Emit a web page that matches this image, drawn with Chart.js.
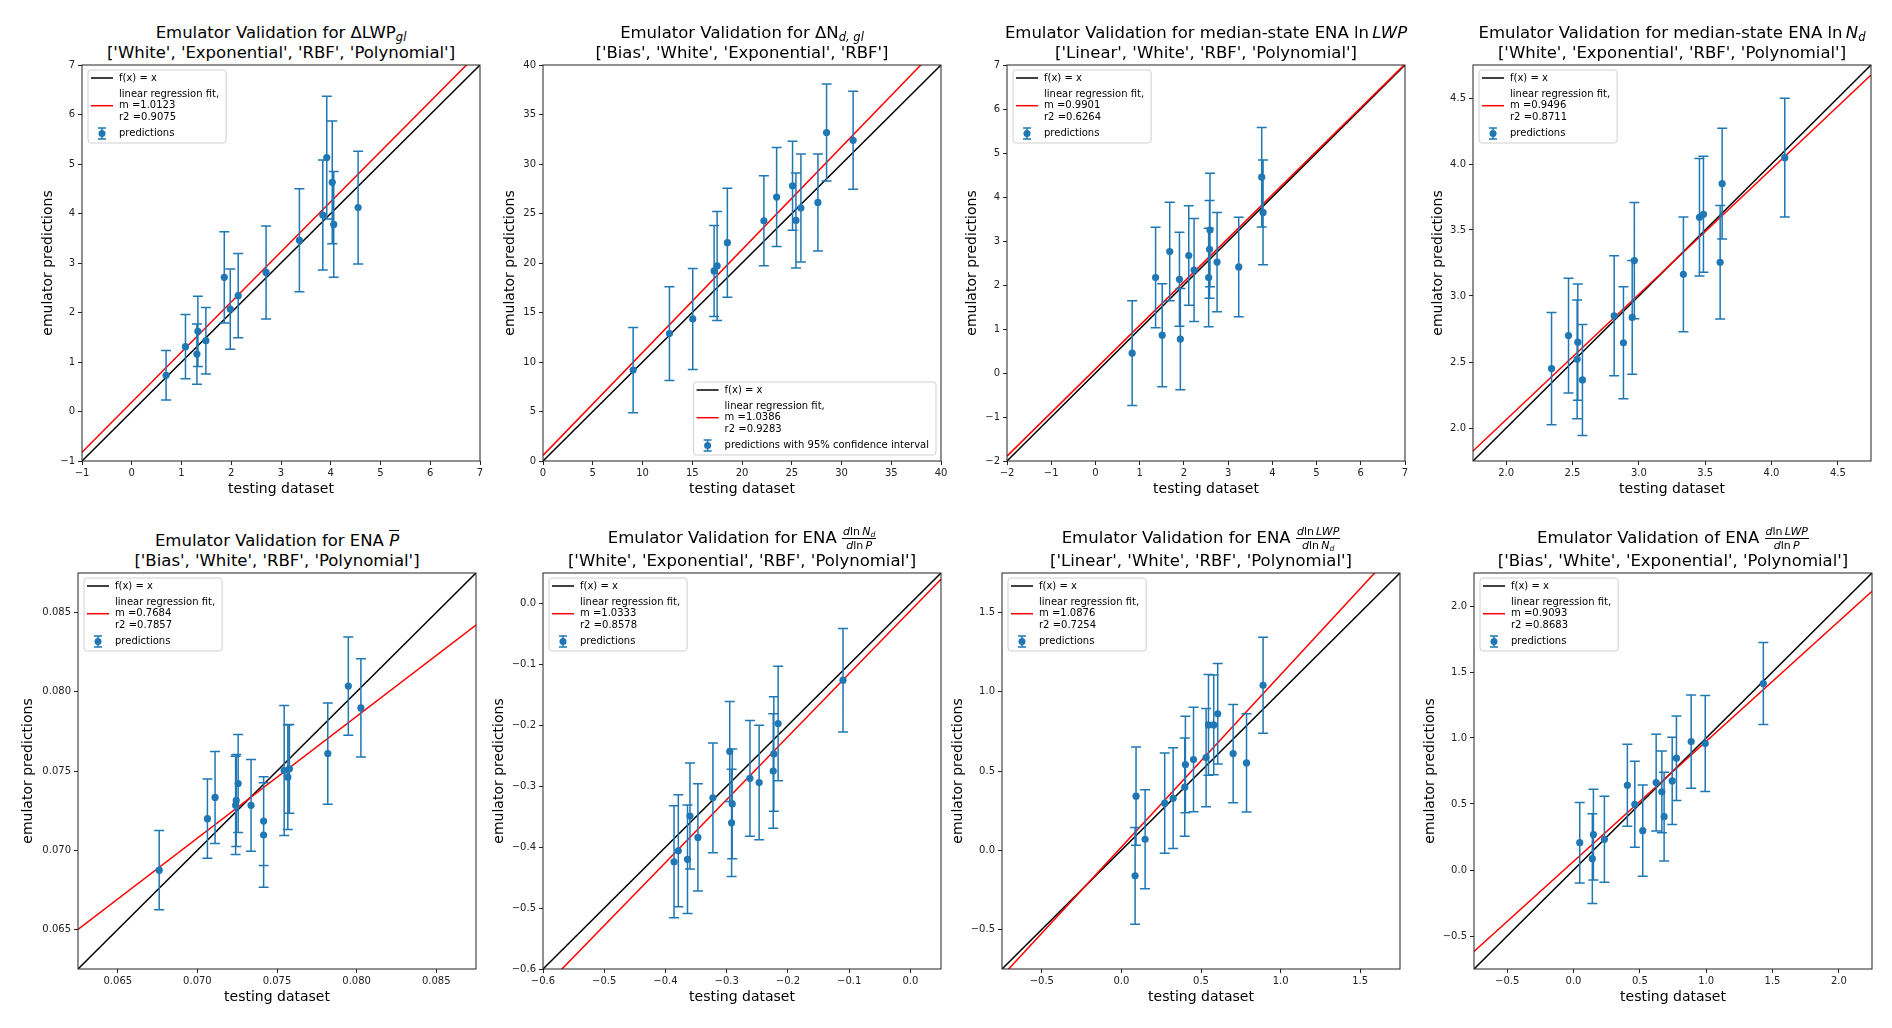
<!DOCTYPE html>
<html>
<head>
<meta charset="utf-8">
<script src="https://cdn.jsdelivr.net/npm/chart.js@4.4.1/dist/chart.umd.min.js"></script>
<style>
  body { margin: 0; background: #fff; }
  #fig { position: relative; width: 1892px; height: 1028px; overflow: hidden; font-family: "DejaVu Sans", sans-serif; }
  .ttl { position: absolute; width: 640px; text-align: center; font-size: 16.5px; line-height: 20px; color: #000; }
  .ttl sub { font-size: 70%; vertical-align: -0.3em; line-height: 0; }
  .frac { display: inline-flex; flex-direction: column; vertical-align: middle; font-size: 11px; line-height: 11px; text-align: center; }
  .frac > span:first-child { border-bottom: 1px solid #000; padding: 0 1px 1px; }
  .frac > span:last-child { padding-top: 1px; }
  .ovl { text-decoration: overline; }
  canvas { position: absolute; }
</style>
</head>
<body>
<div id="fig"></div>
<script>
// ---- data ----
const dLwpTest = [0.69, 1.08, 1.33, 1.31, 1.49, 1.86, 1.98, 2.14, 2.70, 3.37, 3.84, 3.92, 4.03, 4.06, 4.55];
const dLwpPred = [0.73, 1.31, 1.62, 1.16, 1.43, 2.71, 2.07, 2.34, 2.81, 3.46, 3.97, 5.13, 4.63, 3.78, 4.12];
const dLwpErr  = [0.50, 0.65, 0.71, 0.61, 0.67, 0.92, 0.81, 0.85, 0.94, 1.04, 1.11, 1.24, 1.24, 1.07, 1.14];

const dNdTest = [9.06, 12.71, 15.05, 17.2, 17.5, 18.53, 22.2, 23.48, 25.08, 25.42, 25.92, 27.63, 28.5, 31.17];
const dNdPred = [9.18, 12.87, 14.35, 19.2, 19.7, 22.05, 24.27, 26.66, 27.8, 24.3, 25.55, 26.12, 33.18, 32.4];
const dNdErr  = [4.3, 4.74, 5.1, 4.6, 5.5, 5.5, 4.55, 5.0, 4.5, 4.8, 5.45, 4.9, 4.9, 4.95];

const lnLwpTest = [0.83, 1.36, 1.51, 1.68, 1.90, 1.92, 2.11, 2.23, 2.56, 2.58, 2.59, 2.75, 3.24, 3.76, 3.79];
const lnLwpPred = [0.45, 2.17, 0.86, 2.76, 2.13, 0.77, 2.67, 2.34, 2.17, 2.81, 3.25, 2.52, 2.41, 4.45, 3.65];
const lnLwpErr  = [1.19, 1.14, 1.17, 1.12, 1.07, 1.15, 1.13, 1.17, 1.12, 1.11, 1.29, 1.13, 1.13, 1.13, 1.19];

const lnNdTest = [2.342, 2.47, 2.54, 2.535, 2.575, 2.814, 2.884, 2.95, 2.966, 3.336, 3.457, 3.487, 3.613, 3.628, 4.10];
const lnNdPred = [2.45, 2.70, 2.65, 2.52, 2.364, 2.85, 2.646, 2.838, 3.268, 3.164, 3.596, 3.619, 3.255, 3.851, 4.048];
const lnNdErr  = [0.425, 0.435, 0.44, 0.45, 0.42, 0.455, 0.425, 0.43, 0.44, 0.435, 0.445, 0.44, 0.43, 0.42, 0.45];

const precipTest = [0.0676, 0.07063, 0.07111, 0.07256, 0.07244, 0.0724, 0.07337, 0.07416, 0.07416, 0.07545, 0.07568, 0.07578, 0.07819, 0.07948, 0.08027];
const precipPred = [0.06874, 0.07199, 0.07333, 0.07421, 0.07314, 0.07283, 0.07283, 0.07184, 0.07096, 0.07503, 0.07461, 0.07514, 0.0761, 0.08036, 0.07898];
const precipErr  = [0.0025, 0.0025, 0.0029, 0.0031, 0.0029, 0.0031, 0.0029, 0.0028, 0.0033, 0.0041, 0.0033, 0.0028, 0.0032, 0.0031, 0.0031];

const sNdPTest = [-0.386, -0.379, -0.364, -0.360, -0.347, -0.3225, -0.295, -0.291, -0.292, -0.262, -0.247, -0.224, -0.223, -0.216, -0.110];
const sNdPPred = [-0.424, -0.406, -0.420, -0.349, -0.384, -0.319, -0.243, -0.329, -0.360, -0.287, -0.294, -0.275, -0.247, -0.197, -0.126];
const sNdPErr  = [0.092, 0.092, 0.089, 0.087, 0.088, 0.09, 0.082, 0.09, 0.088, 0.095, 0.094, 0.094, 0.094, 0.094, 0.085];

const sLwpNdTest = [0.086, 0.092, 0.149, 0.272, 0.325, 0.398, 0.402, 0.453, 0.532, 0.547, 0.580, 0.605, 0.702, 0.786, 0.890];
const sLwpNdPred = [-0.162, 0.341, 0.069, 0.297, 0.328, 0.398, 0.541, 0.572, 0.585, 0.791, 0.791, 0.861, 0.61, 0.551, 1.041];
const sLwpNdErr  = [0.306, 0.31, 0.313, 0.316, 0.318, 0.31, 0.305, 0.33, 0.31, 0.318, 0.315, 0.317, 0.31, 0.31, 0.303];

const sLwpPTest = [0.047, 0.142, 0.150, 0.233, 0.406, 0.462, 0.522, 0.623, 0.666, 0.683, 0.744, 0.776, 0.887, 0.993, 1.431];
const sLwpPPred = [0.207, 0.086, 0.268, 0.233, 0.642, 0.498, 0.298, 0.662, 0.592, 0.404, 0.675, 0.847, 0.973, 0.958, 1.413];
const sLwpPErr  = [0.305, 0.34, 0.344, 0.325, 0.31, 0.325, 0.345, 0.367, 0.31, 0.336, 0.33, 0.32, 0.353, 0.364, 0.31];

// regression fits (slope and r2 as printed, intercept estimated from the red line)
const fitSlopes = [1.0123, 1.0386, 0.9901, 0.9496, 0.7684, 1.0333, 1.0876, 0.9093];
const fitR2 = [0.9075, 0.9283, 0.6264, 0.8711, 0.7857, 0.8578, 0.7254, 0.8683];
const fitIntercepts = [0.19, 0.57, 0.09, 0.164, 0.01698, -0.012, 0.02, 0.065];

// axis ranges and tick labels (same for x and y in every panel)
const axisRanges = [[-1, 7], [0, 40], [-2, 7], [1.75, 4.75], [0.0625, 0.0875], [-0.6, 0.05], [-0.75, 1.75], [-0.75, 2.25]];
const tickLabels = [
  ['−1', '0', '1', '2', '3', '4', '5', '6', '7'],
  ['0', '5', '10', '15', '20', '25', '30', '35', '40'],
  ['−2', '−1', '0', '1', '2', '3', '4', '5', '6', '7'],
  ['2.0', '2.5', '3.0', '3.5', '4.0', '4.5'],
  ['0.065', '0.070', '0.075', '0.080', '0.085'],
  ['−0.6', '−0.5', '−0.4', '−0.3', '−0.2', '−0.1', '0.0'],
  ['−0.5', '0.0', '0.5', '1.0', '1.5'],
  ['−0.5', '0.0', '0.5', '1.0', '1.5', '2.0']
];

const frac = (a, b) => `<span class="frac"><span>${a}</span><span>${b}</span></span>`;
const titleHeads = [
  'Emulator Validation for ΔLWP<sub><i>gl</i></sub>',
  'Emulator Validation for ΔN<sub><i>d, gl</i></sub>',
  'Emulator Validation for median-state ENA ln&thinsp;<i>LWP</i>',
  'Emulator Validation for median-state ENA ln&thinsp;<i>N<sub>d</sub></i>',
  'Emulator Validation for ENA <i class="ovl">P</i>',
  'Emulator Validation for ENA ' + frac('<i>d</i>ln&thinsp;<i>N<sub>d</sub></i>', '<i>d</i>ln&thinsp;<i>P</i>'),
  'Emulator Validation for ENA ' + frac('<i>d</i>ln&thinsp;<i>LWP</i>', '<i>d</i>ln&thinsp;<i>N<sub>d</sub></i>'),
  'Emulator Validation of ENA ' + frac('<i>d</i>ln&thinsp;<i>LWP</i>', '<i>d</i>ln&thinsp;<i>P</i>')
];
const kernels = [
  ['White', 'Exponential', 'RBF', 'Polynomial'],
  ['Bias', 'White', 'Exponential', 'RBF'],
  ['Linear', 'White', 'RBF', 'Polynomial'],
  ['White', 'Exponential', 'RBF', 'Polynomial'],
  ['Bias', 'White', 'RBF', 'Polynomial'],
  ['White', 'Exponential', 'RBF', 'Polynomial'],
  ['Linear', 'White', 'RBF', 'Polynomial'],
  ['Bias', 'White', 'Exponential', 'Polynomial']
];

// ---- layout ----
const plotLeft = [82, 543, 1007, 1473, 78, 543, 1002, 1474];
const plotTop = [65, 65, 65, 65, 573, 573, 573, 573];
const yAxisW = [42, 41, 43, 43, 58, 52, 52, 52];
const PLOT_W = 398, PLOT_H = 396, PAD_T = 10, PAD_R = 15, X_AXIS_H = 37;
const BLUE = '#1f77b4';

const panels = [
  [dLwpTest, dLwpPred, dLwpErr],
  [dNdTest, dNdPred, dNdErr],
  [lnLwpTest, lnLwpPred, lnLwpErr],
  [lnNdTest, lnNdPred, lnNdErr],
  [precipTest, precipPred, precipErr],
  [sNdPTest, sNdPPred, sNdPErr],
  [sLwpNdTest, sLwpNdPred, sLwpNdErr],
  [sLwpPTest, sLwpPPred, sLwpPErr]
];

Chart.defaults.font.family = '"DejaVu Sans", sans-serif';
Chart.defaults.color = '#222';

function drawLegend(chart, pi) {
  const ctx = chart.ctx, a = chart.chartArea;
  const lines = ['f(x) = x', 'linear regression fit,', 'm =' + fitSlopes[pi].toFixed(4),
                 'r2 =' + fitR2[pi].toFixed(4),
                 pi === 1 ? 'predictions with 95% confidence interval' : 'predictions'];
  ctx.save();
  ctx.font = '10px "DejaVu Sans"';
  const tw = Math.max(...lines.map(t => ctx.measureText(t).width));
  const w = 31 + tw + 7, h = 73;
  let left = a.left + 6, top = a.top + 5;
  if (pi === 1) { left = a.right - 5 - w; top = a.bottom - 6 - h; }

  ctx.beginPath();
  ctx.roundRect(left, top, w, h, 3);
  ctx.fillStyle = 'rgba(255,255,255,0.8)';
  ctx.fill();
  ctx.strokeStyle = '#d0d0d0';
  ctx.lineWidth = 1;
  ctx.stroke();

  const y1 = top + 8, y2 = y1 + 16, y3 = y2 + 11.7, y4 = y3 + 11.7, y5 = y4 + 16;
  const hx0 = left + 3, hx1 = left + 25, tx = left + 31;
  ctx.lineWidth = 1.5;
  ctx.strokeStyle = '#000';
  ctx.beginPath(); ctx.moveTo(hx0, y1); ctx.lineTo(hx1, y1); ctx.stroke();
  ctx.strokeStyle = '#ff0000';
  ctx.beginPath(); ctx.moveTo(hx0, y3); ctx.lineTo(hx1, y3); ctx.stroke();
  // errorbar handle
  const cx = (hx0 + hx1) / 2;
  ctx.strokeStyle = BLUE;
  ctx.beginPath();
  ctx.moveTo(cx, y5 - 5.5); ctx.lineTo(cx, y5 + 5.5);
  ctx.moveTo(cx - 4, y5 - 5.5); ctx.lineTo(cx + 4, y5 - 5.5);
  ctx.moveTo(cx - 4, y5 + 5.5); ctx.lineTo(cx + 4, y5 + 5.5);
  ctx.stroke();
  ctx.fillStyle = BLUE;
  ctx.beginPath(); ctx.arc(cx, y5, 3.5, 0, Math.PI * 2); ctx.fill();

  ctx.fillStyle = '#000';
  ctx.textBaseline = 'middle';
  ctx.textAlign = 'left';
  [y1, y2, y3, y4, y5].forEach((y, i) => ctx.fillText(lines[i], tx, y));
  ctx.restore();
}

function makePanelPlugin(pi) {
  const [xs, ys, errs] = panels[pi];
  return {
    id: 'panelExtras' + pi,
    beforeDatasetDraw(chart, args) {
      if (args.index !== 0) return;
      const sx = chart.scales.x, sy = chart.scales.y, ctx = chart.ctx;
      ctx.save();
      ctx.strokeStyle = BLUE;
      ctx.lineWidth = 1.5;
      ctx.beginPath();
      xs.forEach((xv, i) => {
        const px = sx.getPixelForValue(xv);
        const top = sy.getPixelForValue(ys[i] + errs[i]);
        const bot = sy.getPixelForValue(ys[i] - errs[i]);
        ctx.moveTo(px, top); ctx.lineTo(px, bot);
        ctx.moveTo(px - 5, top); ctx.lineTo(px + 5, top);
        ctx.moveTo(px - 5, bot); ctx.lineTo(px + 5, bot);
      });
      ctx.stroke();
      ctx.restore();
    },
    afterDraw(chart) {
      drawLegend(chart, pi);
      const a = chart.chartArea, ctx = chart.ctx;
      ctx.save();
      ctx.strokeStyle = '#222';
      ctx.lineWidth = 1;
      ctx.strokeRect(a.left, a.top, a.right - a.left, a.bottom - a.top);
      ctx.restore();
    }
  };
}

function axisOptions(pi, isX) {
  const [lo, hi] = axisRanges[pi];
  const labels = tickLabels[pi];
  const values = labels.map(s => parseFloat(s.replace('−', '-')));
  return {
    type: 'linear',
    position: isX ? 'bottom' : 'left',
    min: lo,
    max: hi,
    afterBuildTicks: s => { s.ticks = values.map(v => ({ value: v })); },
    afterFit: s => { if (isX) s.height = X_AXIS_H; else s.width = yAxisW[pi]; },
    ticks: {
      callback: (v, i) => labels[i],
      font: { size: 10 },
      color: '#222',
      padding: isX ? 2 : 3,
      autoSkip: false,
      maxRotation: 0
    },
    grid: { drawOnChartArea: false, drawTicks: true, tickLength: 4, color: '#222' },
    border: { display: false },
    title: {
      display: true,
      text: isX ? 'testing dataset' : 'emulator predictions',
      font: { size: 14 },
      color: '#000',
      padding: 0
    }
  };
}

const fig = document.getElementById('fig');

panels.forEach(([xs, ys], pi) => {
  const L = plotLeft[pi], T = plotTop[pi];
  const [lo, hi] = axisRanges[pi];

  const title = document.createElement('div');
  title.className = 'ttl';
  title.style.left = `${L + PLOT_W / 2 - 320}px`;
  title.style.bottom = `${1028 - (T - 2)}px`;
  title.innerHTML = `<div>${titleHeads[pi]}</div><div>[${kernels[pi].map(k => `'${k}'`).join(', ')}]</div>`;
  fig.appendChild(title);

  const canvas = document.createElement('canvas');
  const cw = yAxisW[pi] + PLOT_W + PAD_R, ch = PAD_T + PLOT_H + X_AXIS_H;
  canvas.width = cw;
  canvas.height = ch;
  canvas.style.width = `${cw}px`;
  canvas.style.height = `${ch}px`;
  canvas.style.left = `${L - yAxisW[pi]}px`;
  canvas.style.top = `${T - PAD_T}px`;
  fig.appendChild(canvas);

  const m = fitSlopes[pi], b = fitIntercepts[pi];
  new Chart(canvas.getContext('2d'), {
    type: 'scatter',
    data: {
      datasets: [
        {
          label: 'predictions',
          data: xs.map((x, i) => ({ x: x, y: ys[i] })),
          backgroundColor: BLUE,
          borderWidth: 0,
          pointRadius: 3.6
        },
        {
          label: 'linear regression fit',
          data: [{ x: lo, y: m * lo + b }, { x: hi, y: m * hi + b }],
          showLine: true,
          borderColor: '#ff0000',
          borderWidth: 1.5,
          pointRadius: 0
        },
        {
          label: 'f(x) = x',
          data: [{ x: lo, y: lo }, { x: hi, y: hi }],
          showLine: true,
          borderColor: '#000',
          borderWidth: 1.5,
          pointRadius: 0
        }
      ]
    },
    options: {
      responsive: false,
      animation: false,
      layout: { padding: { top: PAD_T, right: PAD_R, left: 0, bottom: 0 } },
      scales: { x: axisOptions(pi, true), y: axisOptions(pi, false) },
      plugins: { legend: { display: false }, tooltip: { enabled: false } }
    },
    plugins: [makePanelPlugin(pi)]
  });
});
</script>
</body>
</html>
